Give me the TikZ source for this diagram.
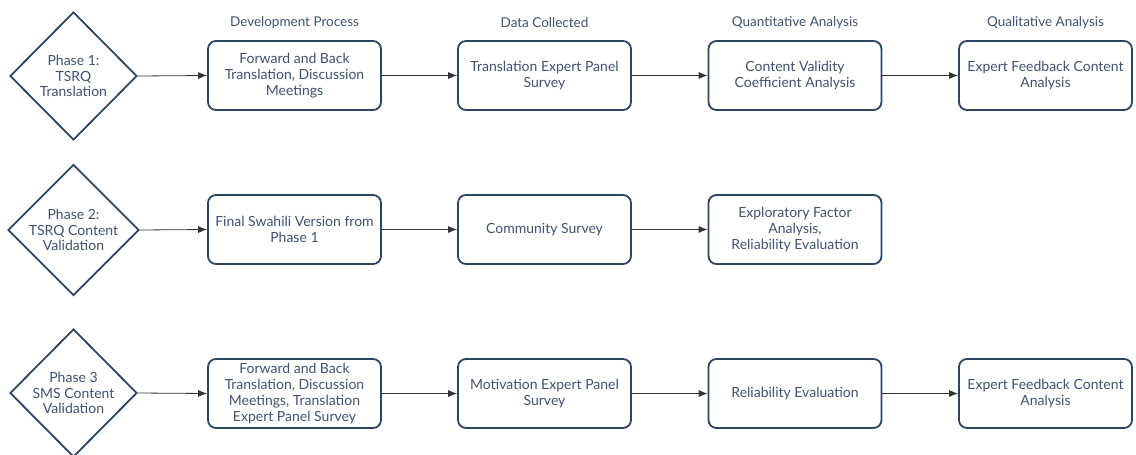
\documentclass[tikz,border=0pt]{standalone}
\usepackage{fontspec}
\setmainfont{Lato}
\usetikzlibrary{shapes.geometric,arrows.meta}
\definecolor{slate}{HTML}{2E4463}
\definecolor{slatetext}{HTML}{3E5272}

\begin{document}
\begin{tikzpicture}[x=1pt, y=-1pt,
  phase/.style={diamond, draw=slate, line width=1.8pt, text=slatetext, minimum width=127pt, minimum height=128pt, inner sep=0pt, align=center, font=\fontsize{14}{15.7}\selectfont},
  stepbox/.style={rectangle, rounded corners=8pt, draw=slate, line width=1.8pt, text=slatetext, minimum width=173pt, minimum height=69pt, inner sep=0pt, align=center, font=\fontsize{14}{15.7}\selectfont},
  colhead/.style={text=slatetext, font=\fontsize{13.5}{15.7}\selectfont},
  flow/.style={draw=black!80, line width=0.8pt, -{Latex[length=9pt,width=7pt]}}]
  \useasboundingbox (0,0) rectangle (1136,455);

  % column headings
  \node[colhead] (h1) at (294.5, 23) {Development Process};
  \node[colhead] (h2) at (544.5, 23) {Data Collected};
  \node[colhead] (h3) at (795, 23) {Quantitative Analysis};
  \node[colhead] (h4) at (1045.5, 23) {Qualitative Analysis};

  % phase 1
  \node[phase] (p1) at (73.5, 76) {Phase 1:\\TSRQ\\Translation};
  \node[stepbox] (a1) at (294.5, 75.5) {Forward and Back\\Translation, Discussion\\Meetings};
  \node[stepbox] (b1) at (544.5, 75.5) {Translation Expert Panel\\Survey};
  \node[stepbox] (c1) at (795, 75.5) {Content Validity\\Coefficient Analysis};
  \node[stepbox] (d1) at (1045.5, 75.5) {Expert Feedback Content\\Analysis};
  \draw[flow] (p1.east) -- (a1.west);
  \draw[flow] (a1.east) -- (b1.west);
  \draw[flow] (b1.east) -- (c1.west);
  \draw[flow] (c1.east) -- (d1.west);

  % phase 2
  \node[phase] (p2) at (73.5, 230) {Phase 2:\\TSRQ Content\\Validation};
  \node[stepbox] (a2) at (294.5, 229.5) {Final Swahili Version from\\Phase 1};
  \node[stepbox] (b2) at (544.5, 229.5) {Community Survey};
  \node[stepbox] (c2) at (795, 229.5) {Exploratory Factor\\Analysis,\\Reliability Evaluation};
  \draw[flow] (p2.east) -- (a2.west);
  \draw[flow] (a2.east) -- (b2.west);
  \draw[flow] (b2.east) -- (c2.west);

  % phase 3
  \node[phase] (p3) at (73.5, 393) {Phase 3\\SMS Content\\Validation};
  \node[stepbox] (a3) at (294.5, 393.5) {Forward and Back\\Translation, Discussion\\Meetings, Translation\\Expert Panel Survey};
  \node[stepbox] (b3) at (544.5, 393.5) {Motivation Expert Panel\\Survey};
  \node[stepbox] (c3) at (795, 393.5) {Reliability Evaluation};
  \node[stepbox] (d3) at (1045.5, 393.5) {Expert Feedback Content\\Analysis};
  \draw[flow] (p3.east) -- (a3.west);
  \draw[flow] (a3.east) -- (b3.west);
  \draw[flow] (b3.east) -- (c3.west);
  \draw[flow] (c3.east) -- (d3.west);
\end{tikzpicture}
\end{document}
